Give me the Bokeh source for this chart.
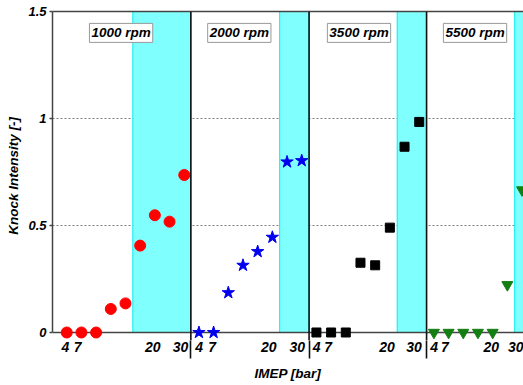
import numpy as np
from bokeh.plotting import figure
from bokeh.models import Range1d, FixedTicker, LinearAxis, Span, Label, ColumnDataSource
from bokeh.embed import file_html
from bokeh.resources import INLINE

# ---- data -------------------------------------------------------------
speed_labels = ["1000 rpm", "2000 rpm", "3500 rpm", "5500 rpm"]

# knock intensity per operating point (slots run left to right)
ki_1000 = [0.0, 0.0, 0.0, 0.11, 0.136, 0.406, 0.548, 0.518, 0.736]
ki_2000 = [0.0, 0.0, 0.186, 0.314, 0.378, 0.445, 0.797, 0.803]
ki_3500 = [0.0, 0.0, 0.0, 0.326, 0.314, 0.49, 0.868, 0.984]
ki_5500 = [0.0, 0.0, 0.0, 0.0, 0.0, 0.223, 0.666]

slot_start = [1, 10, 18, 26]          # first slot of each speed panel
panel_edges = [9.45, 17.5, 25.5]      # separators between speed panels
band_start = [5.5, 15.5, 23.5, 31.5]  # shaded high-load region
band_end = [9.45, 17.5, 25.5, 33.5]
title_x = [4.7, 12.75, 20.9, 28.8]
title_y = 1.40

imep_tick_labels = ["4", "7", "20", "30"]
imep_tick_pos = [[0.9, 1.75, 6.85, 8.75],
                 [10.02, 10.9, 14.75, 16.7],
                 [18.02, 18.8, 22.8, 24.65],
                 [26.02, 26.75, 29.9, 31.85]]

y_ticks = [0, 0.5, 1, 1.5]
y_tick_labels = ["0", "0.5", "1", "1.5"]

x_title = "IMEP [bar]"
y_title = "Knock Intensity [-]"

FONT = "Liberation Sans"

# ---- figure -----------------------------------------------------------
p = figure(width=523, height=385, x_range=Range1d(0.03, 32.1), y_range=Range1d(-0.0374, 1.5),
           output_backend="svg", toolbar_location=None,
           min_border_left=52, min_border_top=11, min_border_right=0, min_border_bottom=45)
p.outline_line_color = None
p.background_fill_color = "white"
p.border_fill_color = "white"
p.xgrid.visible = False
p.ygrid.ticker = FixedTicker(ticks=[0.5, 1.0])
p.ygrid.grid_line_color = "#808080"
p.ygrid.grid_line_dash = "2 2"
p.ygrid.grid_line_width = 1

# shaded bands
p.quad(left=band_start, right=band_end, bottom=0, top=1.5,
       fill_color="#80FFFF", line_color="#00EEEE", line_width=1)

# zero rule (drawn under the markers)
p.hspan(y=[0], line_color="#444444", line_width=1.5)

# panel separators
for e in panel_edges:
    p.add_layout(Span(location=e, dimension="height", line_color="#111111", line_width=1.6))

# series
series = [
    (ki_1000, "circle", 11, "#FF0000"),
    (ki_2000, "star", 13, "#0000EE"),
    (ki_3500, "square", 9, "#000000"),
    (ki_5500, "inverted_triangle", 11, "#137F13"),
]
for (vals, marker, size, color), s0 in zip(series, slot_start):
    xs = s0 + np.arange(len(vals))
    src = ColumnDataSource(dict(x=xs, y=vals))
    p.scatter("x", "y", source=src, marker=marker, size=size,
              fill_color=color, line_color=color)

# panel titles
for lab, tx in zip(speed_labels, title_x):
    p.add_layout(Label(x=tx, y=title_y, text=lab, text_align="center", text_baseline="middle",
                       text_font=FONT, text_font_style="bold italic", text_font_size="13.5px",
                       text_color="black", background_fill_color="white",
                       border_line_color="#999999", border_line_width=1, padding=2))

# x axis 1: ticks continuing the panel separators below the plot
xa = p.xaxis[0]
xa.ticker = FixedTicker(ticks=panel_edges, minor_ticks=[])
xa.major_label_overrides = {e: "" for e in panel_edges}
xa.major_label_text_font_size = "0px"
xa.major_label_standoff = 0
xa.major_tick_out = 18
xa.major_tick_in = 0
xa.major_tick_line_color = "#111111"
xa.major_tick_line_width = 1.6
xa.minor_tick_line_color = None
xa.axis_line_color = None

# x axis 2: IMEP labels, lifted up under the rule
all_pos = [x for row in imep_tick_pos for x in row]
overrides = {}
for row in imep_tick_pos:
    for pos, lab in zip(row, imep_tick_labels):
        overrides[pos] = lab
xb = LinearAxis(ticker=FixedTicker(ticks=all_pos, minor_ticks=[]),
                major_label_overrides=overrides,
                major_tick_line_color=None, minor_tick_line_color=None,
                major_tick_out=0, major_tick_in=0, minor_tick_out=0, minor_tick_in=0,
                axis_line_color=None, major_label_standoff=-17,
                major_label_text_font=FONT, major_label_text_font_style="bold italic",
                major_label_text_font_size="14px", major_label_text_color="black",
                axis_label=x_title, axis_label_text_font=FONT,
                axis_label_text_font_style="bold italic", axis_label_text_font_size="13.5px",
                axis_label_text_color="black", axis_label_standoff=11)
p.add_layout(xb, "below")

# y axis
ya = p.yaxis[0]
ya.ticker = FixedTicker(ticks=y_ticks, minor_ticks=[])
ya.bounds = (0, 1.5)
ya.major_label_overrides = {t: l for t, l in zip(y_ticks, y_tick_labels)}
ya.major_tick_out = 3
ya.major_tick_in = 0
ya.major_tick_line_color = "#444444"
ya.major_tick_line_width = 1.5
ya.minor_tick_line_color = None
ya.axis_line_color = "#444444"
ya.axis_line_width = 1.5
ya.major_label_standoff = 3
ya.major_label_text_font = FONT
ya.major_label_text_font_style = "bold italic"
ya.major_label_text_font_size = "13px"
ya.major_label_text_color = "black"
ya.axis_label = y_title
ya.axis_label_text_font = FONT
ya.axis_label_text_font_style = "bold italic"
ya.axis_label_text_font_size = "13.5px"
ya.axis_label_text_color = "black"
ya.axis_label_standoff = 4

# top border line
top = LinearAxis(ticker=FixedTicker(ticks=[]), major_tick_out=0, major_tick_in=0,
                 minor_tick_out=0, minor_tick_in=0, major_label_standoff=0,
                 major_tick_line_color=None, minor_tick_line_color=None,
                 axis_line_color="#444444", axis_line_width=1.5)
p.add_layout(top, "above")

open("out.html", "w").write(file_html(p, INLINE))
